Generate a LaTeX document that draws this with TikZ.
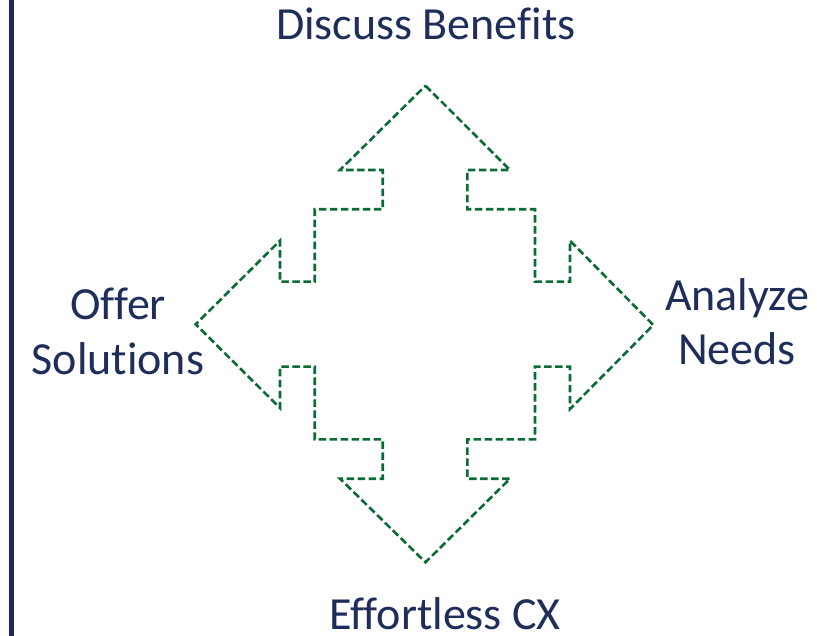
\documentclass[tikz,border=0pt]{standalone}
\usepackage{fontspec}
\setmainfont{Carlito}[Ligatures={NoCommon}]
\definecolor{navytext}{HTML}{1F2D5A}
\definecolor{borderblue}{HTML}{22285A}
\definecolor{dashgreen}{HTML}{0B6B35}
\tikzset{
  lbl/.style={text=navytext, font=\fontsize{46}{54.7}\selectfont, inner sep=0pt, align=center},
  quadarrow/.style={draw=dashgreen, line width=2.6pt, dash pattern=on 7.5pt off 3.5pt, line join=miter},
}
\begin{document}
\begin{tikzpicture}[x=1pt,y=-1pt]
\useasboundingbox (0,0) rectangle (817,636);
\fill[white] (0,0) rectangle (817,636);
\coordinate (btop) at (11.5,0);
\coordinate (bbot) at (11.5,636);
\draw[borderblue, line width=4.5pt] (btop) -- (bbot);
\draw[quadarrow]
 (425.5,85.7) -- (510,170) -- (467.3,170) -- (467.3,209.3) -- (535,209.3)
 -- (535,281.7) -- (570,281.7) -- (570,240.7) -- (653.3,325) -- (570,409)
 -- (570,366.7) -- (535,366.7) -- (535,439.3) -- (467.3,439.3) -- (467.3,478.7)
 -- (510,478.7) -- (425.5,562.3) -- (340,478.7) -- (382.7,478.7) -- (382.7,439.3)
 -- (314.7,439.3) -- (314.7,366.7) -- (280,366.7) -- (280,408) -- (195.7,324.3)
 -- (280,240.7) -- (280,281.7) -- (314.7,281.7) -- (314.7,209.3) -- (382.7,209.3)
 -- (382.7,170) -- (340,170) -- cycle;
\node[lbl, anchor=base] (top) at (425.8,40) {Discuss Benefits};
\node[lbl, anchor=base] (bottom) at (445,629.5) {Effortless CX};
\node[lbl, anchor=base] (left) at (118,374) {Offer\\Solutions};
\node[lbl, anchor=base] (right) at (737,365) {Analyze\\Needs};
\end{tikzpicture}
\end{document}
